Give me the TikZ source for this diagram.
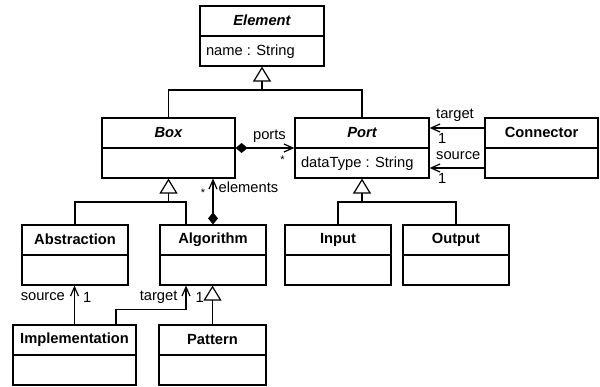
\documentclass[tikz,border=0pt]{standalone}
\usepackage{fontspec}
\setmainfont{Liberation Sans}
\usetikzlibrary{calc,arrows.meta}

\begin{document}
\begin{tikzpicture}[x=1pt,y=-1pt,line width=1.2pt,
  font=\fontsize{14.7}{17}\selectfont,
  cls/.style={draw,minimum height=60pt,inner sep=0pt},
  clsname/.style={font=\fontsize{14.7}{17}\selectfont\bfseries},
  absname/.style={font=\fontsize{14.7}{17}\selectfont\bfseries\itshape},
  attr/.style={anchor=west,inner sep=0pt,xshift=6pt},
  lbl/.style={inner sep=0pt},
  star/.style={inner sep=0pt,font=\fontsize{11}{13}\selectfont},
  inherit/.style={-{Triangle[open,length=15pt,width=18pt]}},
  assoc/.style={-{Straight Barb[length=9pt,width=8pt]}},
  comp/.style={{Diamond[length=12pt,width=10pt]}-{Straight Barb[length=9pt,width=8pt]}}]
  \useasboundingbox (0,0) rectangle (600,387);

  % classes
  \node[cls,minimum width=124pt] (element) at (262,36) {};
  \draw (element.west) -- (element.east);
  \node[absname] at ($(element.north)!0.5!(element.center)$) {Element};
  \node[attr] at ($(element.west)!0.5!(element.south west)$) {name : String};

  \node[cls,minimum width=133pt] (box) at (168.5,148) {};
  \draw (box.west) -- (box.east);
  \node[absname] at ($(box.north)!0.5!(box.center)$) {Box};

  \node[cls,minimum width=134pt] (port) at (362,148) {};
  \draw (port.west) -- (port.east);
  \node[absname] at ($(port.north)!0.5!(port.center)$) {Port};
  \node[attr] at ($(port.west)!0.5!(port.south west)$) {dataType : String};

  \node[cls,minimum width=113pt] (connector) at (541.5,148) {};
  \draw (connector.west) -- (connector.east);
  \node[clsname] at ($(connector.north)!0.5!(connector.center)$) {Connector};

  \node[cls,minimum width=106pt] (abstraction) at (75,255) {};
  \draw (abstraction.west) -- (abstraction.east);
  \node[clsname] at ($(abstraction.north)!0.5!(abstraction.center)$) {Abstraction};

  \node[cls,minimum width=106pt] (algorithm) at (213,255) {};
  \draw (algorithm.west) -- (algorithm.east);
  \node[clsname] at ($(algorithm.north)!0.5!(algorithm.center)$) {Algorithm};

  \node[cls,minimum width=106pt] (input) at (338,255) {};
  \draw (input.west) -- (input.east);
  \node[clsname] at ($(input.north)!0.5!(input.center)$) {Input};

  \node[cls,minimum width=106pt] (output) at (456,255) {};
  \draw (output.west) -- (output.east);
  \node[clsname] at ($(output.north)!0.5!(output.center)$) {Output};

  \node[cls,minimum width=123pt] (implementation) at (74.5,355) {};
  \draw (implementation.west) -- (implementation.east);
  \node[clsname] at ($(implementation.north)!0.5!(implementation.center)$) {Implementation};

  \node[cls,minimum width=107pt] (pattern) at (212.5,355) {};
  \draw (pattern.west) -- (pattern.east);
  \node[clsname] at ($(pattern.north)!0.5!(pattern.center)$) {Pattern};

  % generalisations
  \coordinate (elemjoin) at (element.south |- 0,90);
  \draw (box.north) |- (elemjoin) -| (port.north);
  \draw[inherit] (elemjoin) -- (element.south);

  \coordinate (boxjoin) at (box.south |- 0,202);
  \coordinate (algoup) at ([xshift=-27pt]algorithm.north);
  \draw (abstraction.north) |- (boxjoin) -| (algoup);
  \draw[inherit] (boxjoin) -- (box.south);

  \coordinate (portjoin) at (port.south |- 0,202);
  \draw (input.north) |- (portjoin) -| (output.north);
  \draw[inherit] (portjoin) -- (port.south);

  \draw[inherit] (pattern.north) -- (pattern.north |- algorithm.south);

  % compositions
  \draw[comp] (box.east) -- (port.west);
  \node[lbl,anchor=base east] at ($(port.west)+(-8,-8)$) {ports};
  \node[star] at ($(port.west)+(-12,12)$) {*};

  \coordinate (elemtip) at (algorithm.north |- box.south);
  \draw[comp] (algorithm.north) -- (elemtip);
  \node[lbl,anchor=west] at ($(elemtip)+(5,9)$) {elements};
  \node[star] at ($(elemtip)+(-10,14)$) {*};

  % associations
  \draw[assoc] ([yshift=20pt]connector.west) -- ([yshift=20pt]port.east);
  \node[lbl,anchor=base west] at ($(port.east)+(6,-29)$) {target};
  \node[lbl,anchor=base west] at ($(port.east)+(8,-4)$) {1};
  \draw[assoc] ([yshift=-20pt]connector.west) -- ([yshift=-20pt]port.east);
  \node[lbl,anchor=base west] at ($(port.east)+(6,12)$) {source};
  \node[lbl,anchor=base west] at ($(port.east)+(8,36)$) {1};

  \coordinate (abstrin) at (implementation.north |- abstraction.south);
  \draw[assoc] (implementation.north) -- (abstrin);
  \node[lbl,anchor=base east] at ($(abstrin)+(-9,15)$) {source};
  \node[lbl,anchor=base west] at ($(abstrin)+(8,17)$) {1};

  \coordinate (implout) at ([xshift=41.5pt]implementation.north);
  \coordinate (algoin) at ([xshift=-27pt]algorithm.south);
  \draw[assoc] (implout) -- ++(0,-15) -| (algoin);
  \node[lbl,anchor=base east] at ($(algoin)+(-8,15)$) {target};
  \node[lbl,anchor=base west] at ($(algoin)+(9,17)$) {1};
\end{tikzpicture}
\end{document}
